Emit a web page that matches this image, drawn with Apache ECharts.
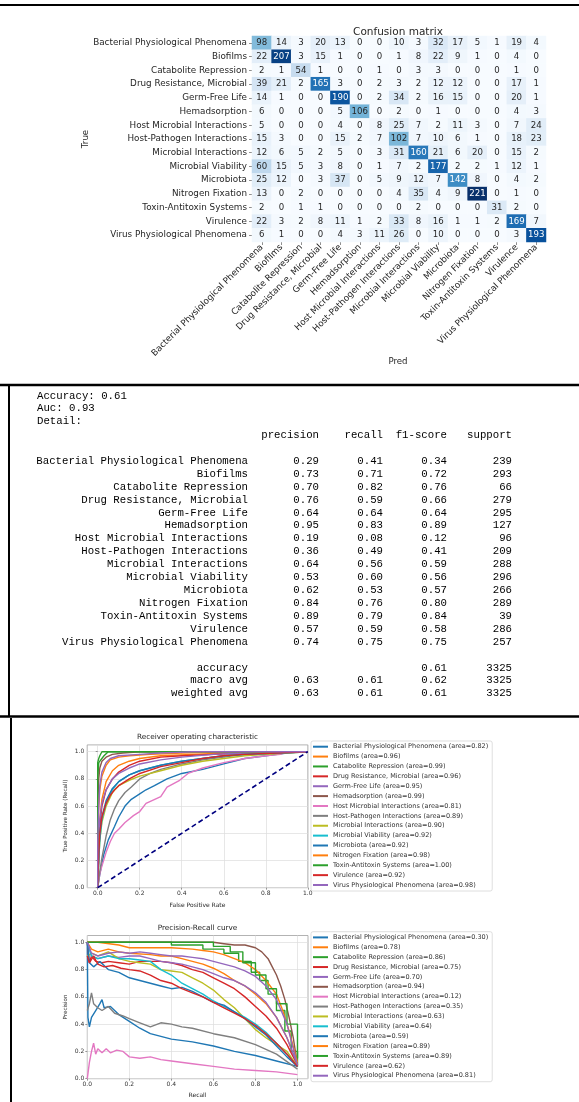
<!DOCTYPE html>
<html>
<head>
<meta charset="utf-8">
<script src="https://cdn.jsdelivr.net/npm/echarts@6/dist/echarts.min.js"></script>
<style>
html, body { margin: 0; padding: 0; background: #fff; }
#main { width: 579px; height: 1102px; }
</style>
</head>
<body>
<div id="main"></div>
<script>
// class names (same order on both axes of the matrix and in the report)
const classes = [
  'Bacterial Physiological Phenomena', 'Biofilms', 'Catabolite Repression',
  'Drug Resistance, Microbial', 'Germ-Free Life', 'Hemadsorption',
  'Host Microbial Interactions', 'Host-Pathogen Interactions', 'Microbial Interactions',
  'Microbial Viability', 'Microbiota', 'Nitrogen Fixation',
  'Toxin-Antitoxin Systems', 'Virulence', 'Virus Physiological Phenomena'
];

// rows = true class, columns = predicted class
const confusion = [
  [98, 14, 3, 20, 13, 0, 0, 10, 3, 32, 17, 5, 1, 19, 4],
  [22, 207, 3, 15, 1, 0, 0, 1, 8, 22, 9, 1, 0, 4, 0],
  [2, 1, 54, 1, 0, 0, 1, 0, 3, 3, 0, 0, 0, 1, 0],
  [39, 21, 2, 165, 3, 0, 2, 3, 2, 12, 12, 0, 0, 17, 1],
  [14, 1, 0, 0, 190, 0, 2, 34, 2, 16, 15, 0, 0, 20, 1],
  [6, 0, 0, 0, 5, 106, 0, 2, 0, 1, 0, 0, 0, 4, 3],
  [5, 0, 0, 0, 4, 0, 8, 25, 7, 2, 11, 3, 0, 7, 24],
  [15, 3, 0, 0, 15, 2, 7, 102, 7, 10, 6, 1, 0, 18, 23],
  [12, 6, 5, 2, 5, 0, 3, 31, 160, 21, 6, 20, 0, 15, 2],
  [60, 15, 5, 3, 8, 0, 1, 7, 2, 177, 2, 2, 1, 12, 1],
  [25, 12, 0, 3, 37, 0, 5, 9, 12, 7, 142, 8, 0, 4, 2],
  [13, 0, 2, 0, 0, 0, 0, 4, 35, 4, 9, 221, 0, 1, 0],
  [2, 0, 1, 1, 0, 0, 0, 0, 2, 0, 0, 0, 31, 2, 0],
  [22, 3, 2, 8, 11, 1, 2, 33, 8, 16, 1, 1, 2, 169, 7],
  [6, 1, 0, 0, 4, 3, 11, 26, 0, 10, 0, 0, 0, 3, 193]
];

// classification report
const precision = [0.29, 0.73, 0.70, 0.76, 0.64, 0.95, 0.19, 0.36, 0.64, 0.53, 0.62, 0.84, 0.89, 0.57, 0.74];
const recall    = [0.41, 0.71, 0.82, 0.59, 0.64, 0.83, 0.08, 0.49, 0.56, 0.60, 0.53, 0.76, 0.79, 0.59, 0.75];
const f1score   = [0.34, 0.72, 0.76, 0.66, 0.64, 0.89, 0.12, 0.41, 0.59, 0.56, 0.57, 0.80, 0.84, 0.58, 0.75];
const support   = [239, 293, 66, 279, 295, 127, 96, 209, 288, 296, 266, 289, 39, 286, 257];
const avgRows = [
  ['accuracy', '', '', '0.61', '3325'],
  ['macro avg', '0.63', '0.61', '0.62', '3325'],
  ['weighted avg', '0.63', '0.61', '0.61', '3325']
];
const headline = ['Accuracy: 0.61', 'Auc: 0.93', 'Detail:'];

const rocAuc = [0.82, 0.96, 0.99, 0.96, 0.95, 0.99, 0.81, 0.89, 0.90, 0.92, 0.92, 0.98, 1.00, 0.92, 0.98];
const prAuc  = [0.30, 0.78, 0.86, 0.75, 0.70, 0.94, 0.12, 0.35, 0.63, 0.64, 0.59, 0.89, 0.89, 0.62, 0.81];

// ROC curves [fpr, tpr], one per class
const rocCurves = [
  [[0,0],[0.01,0.1],[0.03,0.25],[0.05,0.35],[0.08,0.45],[0.1,0.52],[0.13,0.6],[0.16,0.65],[0.2,0.69],[0.23,0.72],[0.27,0.75],[0.33,0.8],[0.4,0.84],[0.5,0.87],[0.6,0.91],[0.7,0.95],[0.8,0.97],[0.9,0.99],[1,1]],
  [[0,0],[0.005,0.3],[0.01,0.5],[0.02,0.65],[0.04,0.78],[0.07,0.86],[0.1,0.9],[0.15,0.93],[0.2,0.95],[0.3,0.97],[0.45,0.98],[0.6,0.99],[0.75,1],[1,1]],
  [[0,0],[0,0.8],[0.005,0.92],[0.02,0.95],[0.03,0.97],[0.05,1],[1,1]],
  [[0,0],[0.005,0.25],[0.01,0.45],[0.02,0.6],[0.04,0.72],[0.07,0.8],[0.1,0.85],[0.15,0.9],[0.2,0.93],[0.3,0.96],[0.4,0.97],[0.55,0.98],[0.7,0.99],[1,1]],
  [[0,0],[0.005,0.3],[0.01,0.5],[0.02,0.62],[0.04,0.72],[0.07,0.8],[0.1,0.84],[0.15,0.88],[0.2,0.91],[0.3,0.94],[0.4,0.96],[0.55,0.98],[0.7,0.99],[1,1]],
  [[0,0],[0,0.6],[0.005,0.8],[0.01,0.88],[0.02,0.93],[0.04,0.96],[0.07,0.98],[0.12,0.99],[0.2,1],[1,1]],
  [[0,0],[0.01,0.1],[0.02,0.16],[0.04,0.26],[0.06,0.34],[0.08,0.4],[0.1,0.43],[0.13,0.48],[0.17,0.53],[0.2,0.56],[0.23,0.62],[0.3,0.67],[0.33,0.74],[0.39,0.79],[0.43,0.84],[0.5,0.88],[0.6,0.92],[0.7,0.95],[0.8,0.97],[0.87,0.98],[0.9,1],[1,1]],
  [[0,0],[0.01,0.12],[0.02,0.22],[0.04,0.38],[0.06,0.5],[0.08,0.58],[0.1,0.64],[0.13,0.7],[0.16,0.74],[0.2,0.8],[0.25,0.84],[0.3,0.87],[0.4,0.91],[0.5,0.94],[0.6,0.96],[0.7,0.98],[0.8,0.99],[1,1]],
  [[0,0],[0.005,0.2],[0.01,0.35],[0.02,0.48],[0.04,0.6],[0.07,0.7],[0.1,0.75],[0.15,0.79],[0.2,0.82],[0.3,0.86],[0.4,0.9],[0.5,0.93],[0.6,0.95],[0.7,0.97],[0.8,0.98],[1,1]],
  [[0,0],[0.005,0.2],[0.01,0.35],[0.02,0.5],[0.04,0.62],[0.07,0.72],[0.1,0.78],[0.15,0.83],[0.2,0.86],[0.3,0.9],[0.4,0.93],[0.5,0.95],[0.6,0.97],[0.7,0.98],[0.85,0.99],[1,1]],
  [[0,0],[0.005,0.25],[0.01,0.4],[0.02,0.52],[0.04,0.64],[0.07,0.73],[0.1,0.78],[0.15,0.83],[0.2,0.86],[0.3,0.9],[0.4,0.93],[0.5,0.95],[0.6,0.97],[0.7,0.98],[0.85,0.99],[1,1]],
  [[0,0],[0,0.4],[0.005,0.6],[0.01,0.72],[0.02,0.82],[0.04,0.9],[0.06,0.94],[0.1,0.96],[0.15,0.97],[0.25,0.98],[0.4,0.99],[0.6,1],[1,1]],
  [[0,0],[0,0.92],[0.005,0.95],[0.01,0.97],[0.02,1],[1,1]],
  [[0,0],[0.005,0.25],[0.01,0.4],[0.02,0.52],[0.04,0.62],[0.06,0.68],[0.08,0.72],[0.1,0.75],[0.15,0.8],[0.2,0.84],[0.3,0.89],[0.4,0.92],[0.5,0.95],[0.6,0.97],[0.7,0.98],[0.85,0.99],[1,1]],
  [[0,0],[0,0.35],[0.005,0.6],[0.01,0.75],[0.02,0.85],[0.04,0.92],[0.06,0.95],[0.1,0.97],[0.2,0.98],[0.3,0.99],[0.45,1],[1,1]]
];
const chanceLine = [[0, 0], [1, 1]];

// precision-recall curves [recall, precision], one per class
const prCurves = [
  [[0,1],[0.003,0.45],[0.01,0.38],[0.02,0.45],[0.04,0.5],[0.06,0.55],[0.07,0.58],[0.08,0.52],[0.11,0.53],[0.13,0.5],[0.15,0.47],[0.2,0.42],[0.25,0.37],[0.3,0.33],[0.4,0.29],[0.5,0.27],[0.6,0.24],[0.7,0.2],[0.8,0.17],[0.9,0.13],[1,0.09]],
  [[0,1],[0.02,0.95],[0.05,0.93],[0.1,0.95],[0.15,0.93],[0.2,0.92],[0.3,0.91],[0.35,0.9],[0.4,0.9],[0.45,0.88],[0.5,0.86],[0.55,0.84],[0.6,0.81],[0.65,0.77],[0.7,0.72],[0.75,0.68],[0.8,0.62],[0.85,0.55],[0.9,0.45],[0.95,0.3],[1,0.1]],
  [[0,1],[0.4,1],[0.4,0.98],[0.55,0.98],[0.55,0.95],[0.65,0.95],[0.65,0.92],[0.72,0.92],[0.72,0.86],[0.78,0.86],[0.78,0.78],[0.82,0.78],[0.82,0.72],[0.86,0.72],[0.86,0.62],[0.9,0.62],[0.9,0.5],[0.94,0.5],[0.94,0.35],[0.97,0.35],[0.97,0.2],[1,0.2],[1,0.09]],
  [[0,1],[0.01,0.85],[0.02,0.9],[0.04,0.86],[0.07,0.85],[0.1,0.86],[0.15,0.85],[0.2,0.84],[0.25,0.86],[0.3,0.86],[0.35,0.86],[0.4,0.85],[0.45,0.83],[0.5,0.8],[0.55,0.78],[0.6,0.74],[0.65,0.7],[0.7,0.66],[0.75,0.6],[0.8,0.53],[0.85,0.46],[0.9,0.37],[0.95,0.25],[1,0.1]],
  [[0,1],[0.02,0.9],[0.05,0.88],[0.1,0.9],[0.15,0.89],[0.2,0.9],[0.25,0.9],[0.3,0.88],[0.35,0.86],[0.4,0.85],[0.45,0.84],[0.5,0.82],[0.55,0.8],[0.6,0.77],[0.65,0.74],[0.7,0.72],[0.75,0.68],[0.8,0.63],[0.85,0.56],[0.9,0.45],[0.95,0.3],[1,0.1]],
  [[0,1],[0.6,1],[0.65,0.99],[0.7,0.98],[0.75,0.98],[0.8,0.96],[0.83,0.93],[0.86,0.88],[0.88,0.82],[0.9,0.76],[0.92,0.68],[0.94,0.58],[0.96,0.45],[0.98,0.3],[1,0.1]],
  [[0,0],[0.01,0.12],[0.02,0.2],[0.03,0.26],[0.04,0.18],[0.05,0.22],[0.07,0.19],[0.09,0.22],[0.11,0.19],[0.14,0.21],[0.17,0.2],[0.2,0.16],[0.25,0.15],[0.3,0.16],[0.35,0.14],[0.4,0.13],[0.5,0.11],[0.6,0.09],[0.7,0.07],[0.8,0.06],[0.9,0.05],[1,0.03]],
  [[0,0.5],[0.01,0.55],[0.02,0.63],[0.03,0.55],[0.05,0.52],[0.07,0.5],[0.1,0.53],[0.13,0.48],[0.17,0.46],[0.2,0.44],[0.25,0.41],[0.3,0.38],[0.35,0.41],[0.4,0.4],[0.45,0.38],[0.5,0.37],[0.6,0.33],[0.7,0.3],[0.8,0.25],[0.9,0.18],[1,0.07]],
  [[0,0.9],[0.02,0.92],[0.05,0.9],[0.1,0.93],[0.15,0.88],[0.2,0.86],[0.25,0.85],[0.3,0.84],[0.35,0.8],[0.4,0.79],[0.45,0.78],[0.5,0.74],[0.55,0.7],[0.6,0.65],[0.65,0.58],[0.7,0.52],[0.75,0.44],[0.8,0.36],[0.85,0.3],[0.9,0.25],[0.95,0.2],[1,0.09]],
  [[0,1],[0.02,0.9],[0.05,0.88],[0.1,0.9],[0.15,0.88],[0.2,0.88],[0.25,0.87],[0.3,0.86],[0.35,0.8],[0.4,0.76],[0.45,0.7],[0.5,0.66],[0.55,0.62],[0.6,0.57],[0.65,0.53],[0.7,0.49],[0.75,0.45],[0.8,0.4],[0.85,0.34],[0.9,0.26],[0.95,0.18],[1,0.09]],
  [[0,1],[0.01,0.85],[0.03,0.82],[0.06,0.86],[0.1,0.8],[0.15,0.78],[0.2,0.74],[0.25,0.72],[0.3,0.7],[0.35,0.68],[0.4,0.66],[0.45,0.67],[0.5,0.64],[0.55,0.6],[0.6,0.56],[0.65,0.54],[0.7,0.49],[0.75,0.44],[0.8,0.38],[0.85,0.32],[0.9,0.24],[0.95,0.16],[1,0.09]],
  [[0,1],[0.05,1],[0.15,0.98],[0.2,0.96],[0.3,0.96],[0.4,0.96],[0.5,0.95],[0.55,0.94],[0.6,0.93],[0.65,0.91],[0.7,0.88],[0.75,0.85],[0.8,0.8],[0.85,0.72],[0.9,0.62],[0.93,0.5],[0.96,0.35],[1,0.12]],
  [[0,1],[0.6,1],[0.6,0.97],[0.68,0.97],[0.68,0.93],[0.74,0.93],[0.74,0.85],[0.8,0.85],[0.8,0.76],[0.85,0.76],[0.85,0.66],[0.9,0.66],[0.9,0.55],[0.95,0.55],[0.95,0.4],[1,0.4],[1,0.15]],
  [[0,0.9],[0.01,0.85],[0.03,0.9],[0.05,0.84],[0.08,0.82],[0.12,0.83],[0.16,0.81],[0.2,0.8],[0.25,0.79],[0.3,0.76],[0.35,0.72],[0.4,0.7],[0.45,0.66],[0.5,0.63],[0.55,0.6],[0.6,0.56],[0.65,0.52],[0.7,0.48],[0.75,0.44],[0.8,0.39],[0.85,0.33],[0.9,0.26],[0.95,0.18],[1,0.09]],
  [[0,1],[0.02,0.92],[0.05,0.9],[0.1,0.92],[0.15,0.93],[0.2,0.92],[0.25,0.93],[0.3,0.92],[0.35,0.91],[0.4,0.9],[0.45,0.9],[0.5,0.89],[0.55,0.88],[0.6,0.86],[0.65,0.84],[0.7,0.82],[0.75,0.79],[0.8,0.75],[0.85,0.68],[0.9,0.58],[0.95,0.4],[1,0.1]]
];

const axisTicks = [0, 0.2, 0.4, 0.6, 0.8, 1.0];

const tab10 = ['#1f77b4', '#ff7f0e', '#2ca02c', '#d62728', '#9467bd', '#8c564b', '#e377c2', '#7f7f7f', '#bcbd22', '#17becf'];
const blues = ['#f7fbff', '#deebf7', '#c6dbef', '#9ecae1', '#6baed6', '#4292c6', '#2171b5', '#08519c', '#08306b'];
const sans = '"DejaVu Sans", sans-serif';
const mono = '"Liberation Mono", "DejaVu Sans Mono", monospace';

let myechart = echarts.init(document.getElementById('main'));

// heatmap cells
let maxVal = 0;
confusion.forEach(r => r.forEach(v => { if (v > maxVal) maxVal = v; }));
let cells = [];
confusion.forEach((row, i) => {
  row.forEach((v, j) => {
    cells.push({
      value: [j, i, v],
      label: { color: v > maxVal / 2 ? '#ffffff' : '#262626' }
    });
  });
});

const rocNames = classes.map((c, i) => c + ' (area=' + rocAuc[i].toFixed(2) + ')');
const prNames = classes.map((c, i) => c + ' (area=' + prAuc[i].toFixed(2) + ')');

let series = [{
  type: 'heatmap',
  xAxisIndex: 0, yAxisIndex: 0,
  data: cells,
  label: { show: true, fontSize: 8.6, fontFamily: sans, formatter: p => p.value[2] },
  emphasis: { disabled: true }
}];
rocCurves.forEach((pts, i) => {
  series.push({
    type: 'line', name: rocNames[i], xAxisIndex: 1, yAxisIndex: 1,
    data: pts, showSymbol: false, clip: false, animation: false,
    lineStyle: { width: 1.4, color: tab10[i % 10] }, itemStyle: { color: tab10[i % 10] }
  });
});
series.push({
  type: 'line', name: 'chance', xAxisIndex: 1, yAxisIndex: 1,
  data: chanceLine, showSymbol: false, animation: false,
  lineStyle: { width: 1.6, color: '#000080', type: [5, 3] }
});
prCurves.forEach((pts, i) => {
  series.push({
    type: 'line', name: prNames[i], xAxisIndex: 2, yAxisIndex: 2,
    data: pts, showSymbol: false, clip: false, animation: false,
    lineStyle: { width: 1.4, color: tab10[i % 10] }, itemStyle: { color: tab10[i % 10] }
  });
});

function valueAxis(idx, min, max) {
  return {
    type: 'value', gridIndex: idx, min: min, max: max,
    axisLine: { show: false },
    axisTick: { show: true, length: 2, customValues: axisTicks, lineStyle: { color: '#555', width: 0.6 } },
    axisLabel: { customValues: axisTicks, fontSize: 6, color: '#333', fontFamily: sans, margin: 3,
                 formatter: v => v.toFixed(1) },
    splitLine: { show: true, lineStyle: { color: '#dcdcdc', width: 0.7 } }
  };
}

function legendBox(names, top) {
  return {
    data: names, orient: 'vertical', left: 311, top: top,
    icon: 'rect', itemWidth: 15, itemHeight: 2, itemGap: 1.88, itemTextGap: 4,
    padding: [1.7, 4, 2, 2],
    backgroundColor: 'rgba(255,255,255,0.85)', borderColor: '#d0d0d0', borderWidth: 0.7, borderRadius: 2,
    selectedMode: false,
    textStyle: { fontSize: 6.5, lineHeight: 8, color: '#333', fontFamily: sans }
  };
}

// texts: titles, axis names, report
let graphics = [];
function txt(x, y, text, opt) {
  graphics.push(Object.assign({
    type: 'text', x: x, y: y, silent: true,
    style: Object.assign({ text: text, fill: '#262626', font: '8px ' + sans, align: 'center', verticalAlign: 'middle' }, opt || {})
  }));
}
function rtxt(x, y, text, size) {
  graphics.push({
    type: 'text', x: x, y: y, rotation: Math.PI / 2, silent: true,
    style: { text: text, fill: '#262626', font: size + 'px ' + sans, align: 'center', verticalAlign: 'middle' }
  });
}
function line(x1, y1, x2, y2, w) {
  graphics.push({ type: 'line', silent: true, shape: { x1, y1, x2, y2 }, style: { stroke: '#000', lineWidth: w } });
}

// panel borders
line(0, 5, 579, 5, 2);
line(0, 385, 579, 385, 2.5);
line(9, 386, 9, 716, 2);
line(0, 716.5, 579, 716.5, 2.5);
line(11, 718, 11, 1102, 2);

// confusion matrix labels
txt(398, 32, 'Confusion matrix', { font: '10.5px ' + sans });
rtxt(86, 139, 'True', 8.6);
txt(398, 362, 'Pred', { font: '8.6px ' + sans });

// report
const monoFont = '10.7px ' + mono;
headline.forEach((t, i) => txt(37, 396 + i * 12.6, t, { font: monoFont, fill: '#000', align: 'left' }));
const colRight = [248, 319, 383, 447, 512];
['precision', 'recall', 'f1-score', 'support'].forEach((t, k) => txt(colRight[k + 1], 435, t, { font: monoFont, fill: '#000', align: 'right' }));
classes.forEach((c, i) => {
  const y = 461 + i * 12.92;
  const cols = [c, precision[i].toFixed(2), recall[i].toFixed(2), f1score[i].toFixed(2), String(support[i])];
  cols.forEach((t, k) => txt(colRight[k], y, t, { font: monoFont, fill: '#000', align: 'right' }));
});
avgRows.forEach((r, i) => {
  const y = 668 + i * 12.6;
  r.forEach((t, k) => { if (t) txt(colRight[k], y, t, { font: monoFont, fill: '#000', align: 'right' }); });
});

// ROC / PR titles and axis names
txt(197.5, 737.5, 'Receiver operating characteristic', { font: '7.3px ' + sans });
rtxt(66, 816, 'True Positive Rate (Recall)', 5.6);
txt(197.5, 905, 'False Positive Rate', { font: '6px ' + sans });
txt(197.5, 928, 'Precision-Recall curve', { font: '7.3px ' + sans });
rtxt(66, 1007, 'Precision', 5.6);
txt(197.5, 1095, 'Recall', { font: '6px ' + sans });

myechart.setOption({
  animation: false,
  backgroundColor: '#ffffff',
  textStyle: { fontFamily: sans },
  grid: [
    { left: 252, top: 36, width: 294, height: 206 },
    { left: 87.2, top: 744.9, width: 220.6, height: 142.8, show: true, borderColor: '#a0a0a0', borderWidth: 0.8, backgroundColor: 'transparent' },
    { left: 87.3, top: 935.5, width: 220.7, height: 143.2, show: true, borderColor: '#a0a0a0', borderWidth: 0.8, backgroundColor: 'transparent' }
  ],
  xAxis: [
    {
      type: 'category', gridIndex: 0, data: classes, position: 'bottom',
      axisLine: { show: false },
      axisTick: { show: true, length: 3, alignWithLabel: true, lineStyle: { color: '#444', width: 0.6 } },
      axisLabel: { rotate: 45, interval: 0, fontSize: 8.8, color: '#262626', fontFamily: sans, margin: 4 },
      splitLine: { show: false }
    },
    valueAxis(1, -0.05, 1.0),
    valueAxis(2, 0, 1.05)
  ],
  yAxis: [
    {
      type: 'category', gridIndex: 0, data: classes, inverse: true,
      axisLine: { show: false },
      axisTick: { show: true, length: 3, alignWithLabel: true, lineStyle: { color: '#444', width: 0.6 } },
      axisLabel: { interval: 0, fontSize: 8.8, color: '#262626', fontFamily: sans, margin: 5 },
      splitLine: { show: false }
    },
    valueAxis(1, 0, 1.05),
    valueAxis(2, 0, 1.05)
  ],
  visualMap: {
    show: false, type: 'continuous', seriesIndex: 0, dimension: 2,
    min: 0, max: maxVal, inRange: { color: blues }
  },
  legend: [legendBox(rocNames, 741), legendBox(prNames, 931.7)],
  graphic: graphics,
  series: series
});
</script>
</body>
</html>
